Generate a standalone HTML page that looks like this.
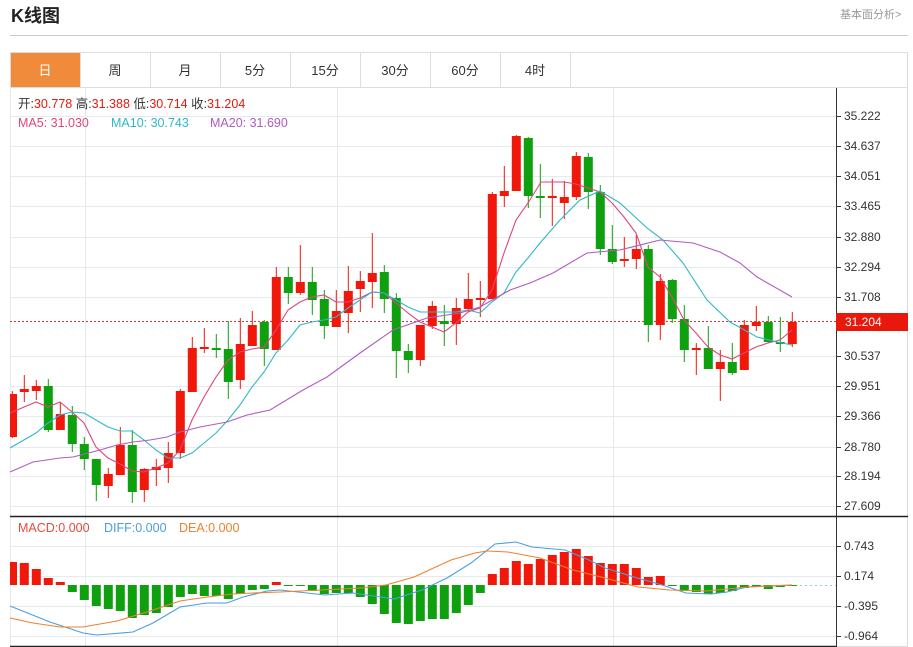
<!DOCTYPE html>
<html><head><meta charset="utf-8">
<style>
body{margin:0;background:#fff;width:913px;height:647px;overflow:hidden;font-family:"Liberation Sans","Noto Sans CJK SC",sans-serif;}
svg{position:absolute;left:0;top:0}
text{font-family:"Liberation Sans","Noto Sans CJK SC",sans-serif}
</style></head><body>
<svg id="s" width="913" height="647" xmlns="http://www.w3.org/2000/svg">
<text x="11" y="22" font-size="18" font-weight="bold" fill="#222">K线图</text>
<text x="840" y="18" font-size="11" fill="#999">基本面分析&gt;</text>
<line x1="10" y1="35.5" x2="908" y2="35.5" stroke="#ccc"/>
<rect x="10.5" y="52.5" width="897" height="594" fill="none" stroke="#ddd"/>
<line x1="10" y1="87.5" x2="908" y2="87.5" stroke="#ddd"/>
<rect x="11" y="53" width="69" height="34" fill="#F08B3B"/>
<g stroke="#ddd"><line x1="80.5" y1="53" x2="80.5" y2="87"/><line x1="150.5" y1="53" x2="150.5" y2="87"/><line x1="220.5" y1="53" x2="220.5" y2="87"/><line x1="290.5" y1="53" x2="290.5" y2="87"/><line x1="360.5" y1="53" x2="360.5" y2="87"/><line x1="430.5" y1="53" x2="430.5" y2="87"/><line x1="500.5" y1="53" x2="500.5" y2="87"/><line x1="570.5" y1="53" x2="570.5" y2="87"/></g>
<g font-size="13" text-anchor="middle" fill="#333">
<text x="45" y="75" fill="#fff">日</text><text x="115" y="75">周</text><text x="185" y="75">月</text><text x="255" y="75">5分</text><text x="325" y="75">15分</text><text x="395" y="75">30分</text><text x="465" y="75">60分</text><text x="535" y="75">4时</text></g>
<g id="grid" stroke="#e6e9ee"></g>
<line x1="836.5" y1="88" x2="836.5" y2="647" stroke="#333"/>
<line x1="10" y1="516.5" x2="908" y2="516.5" stroke="#222" stroke-width="1.5"/>
<line x1="10" y1="646.5" x2="836" y2="646.5" stroke="#222" stroke-width="1.5"/>
<line x1="10" y1="321.5" x2="836" y2="321.5" stroke="#e33" stroke-dasharray="2,2"/>
<line x1="790" y1="585.5" x2="836" y2="585.5" stroke="#9cd" stroke-dasharray="2,3"/>
<g id="c"></g>
<g font-size="12" fill="#333" id="ax"></g>
<rect x="836" y="313" width="72" height="18" fill="#e8180c"/>
<text x="845" y="326" font-size="12" fill="#fff">31.204</text>
<g font-size="12.5">
<text x="18" y="108" fill="#333">开:<tspan fill="#e8180c">30.778</tspan>  高:<tspan fill="#e8180c">31.388</tspan>  低:<tspan fill="#e8180c">30.714</tspan>  收:<tspan fill="#e8180c">31.204</tspan></text>
<text x="18" y="127" fill="#e0457b">MA5: 31.030</text>
<text x="111" y="127" fill="#30b8c8">MA10: 30.743</text>
<text x="210" y="127" fill="#b05cc0">MA20: 31.690</text>
<text x="18" y="532" fill="#e84a3c">MACD:0.000</text>
<text x="104" y="532" fill="#4a9ee0">DIFF:0.000</text>
<text x="179" y="532" fill="#f08030">DEA:0.000</text>
</g>
</svg>
<script>
const S=document.getElementById('c'),G=document.getElementById('grid'),A=document.getElementById('ax');
const ns='http://www.w3.org/2000/svg';
function el(p,t,a){const e=document.createElementNS(ns,t);for(const k in a)e.setAttribute(k,a[k]);p.appendChild(e);return e;}
const py=[[116,'35.222'],[146,'34.637'],[176,'34.051'],[206,'33.465'],[237,'32.880'],[267,'32.294'],[297,'31.708'],[356,'30.537'],[386,'29.951'],[416,'29.366'],[447,'28.780'],[476,'28.194'],[506,'27.609'],[546,'0.743'],[576,'0.174'],[606,'-0.395'],[636,'-0.964']];
py.forEach(([y,t])=>{el(G,'line',{x1:10,x2:836,y1:y+.5,y2:y+.5});el(A,'line',{x1:836,x2:841,y1:y+.5,y2:y+.5,stroke:'#333'});const tx=el(A,'text',{x:844,y:y+4});tx.textContent=t;});
[85,337,613].forEach(x=>el(G,'line',{x1:x+.5,x2:x+.5,y1:88,y2:646}));
el(G,'line',{x1:10.5,x2:10.5,y1:88,y2:646});
const R='#f0180a',Gr='#0ea00e';
const c=[
[R,394,437,391,438],[R,389,392,375,402],[R,386,391,380,400],[Gr,386,430,379,432],[R,414,430,402,430],[Gr,415,444,406,452],[Gr,444,459,437,470],[Gr,459,485,459,501],[R,474,486,468,498],[R,445,475,427,475],[Gr,445,492,430,503],[R,469,490,468,502],[R,467,470,459,486],[R,453,468,442,483],[R,391,453,389,459],[R,348,392,337,392],[R,347,348,328,353],[Gr,348,349,334,358],[Gr,349,382,321,399],[R,344,380,318,389],[R,325,346,311,346],[Gr,322,349,320,366],
[R,277,350,267,350],[Gr,277,293,267,304],[R,282,293,245,295],[Gr,282,300,267,315],[Gr,299,326,290,339],[R,311,327,290,327],[R,291,313,266,333],[R,281,289,271,312],[R,273,282,233,308],[Gr,272,299,265,313],[Gr,298,351,293,378],[Gr,351,360,344,373],[R,325,360,325,366],[R,306,326,301,329],[Gr,321,324,305,346],[R,308,324,298,345],[R,299,309,273,312],[R,298,299,281,317],[R,194,299,192,299],[R,191,196,166,207],[R,136,191,135,191],[Gr,138,196,137,208],
[Gr,196,197,164,218],[R,196,197,179,226],[R,197,203,181,219],[R,156,197,152,200],[Gr,157,192,153,209],[Gr,192,249,185,255],[Gr,249,262,225,264],[R,259,260,237,267],[R,249,259,235,269],[Gr,249,325,245,342],[R,281,325,274,340],[Gr,280,319,279,323],[Gr,319,350,305,362],[R,348,350,343,375],[Gr,348,369,326,369],[R,362,369,350,401],[Gr,362,373,343,375],[R,325,370,320,370],[R,322,326,306,331],[Gr,322,342,316,343],[Gr,342,344,317,352],[R,322,344,312,347]];
c.forEach((d,i)=>{const x=12.3+12*i;el(S,'line',{x1:x,x2:x,y1:d[3],y2:d[4],stroke:d[0]});const h=Math.max(d[2]-d[1],2);el(S,'rect',{x:i==0?10:x-4.5,y:d[1],width:i==0?7:9,height:h,fill:d[0]});});
const mh={0:562,1:563,2:569,3:578,4:582,5:592,6:600,7:606,8:609,9:611,10:618,11:615,12:613,13:607,14:597,15:594,16:596,17:596,18:599,19:594,20:590,21:589,22:582,23:586,24:586,25:591,26:594,27:593,28:593,29:597,30:604,31:614,32:623,33:624,34:621,35:619,36:619,37:613,38:605,39:593,40:574,41:568,42:561,43:564,44:559,45:555,46:552,47:549,48:556,49:563,50:564,51:564,52:568,53:577,54:576,55:585,56:591,57:592,58:594,59:593,60:591,61:588,62:587,63:589,64:587,65:586};
for(const k in mh){const i=+k,x=12.3+12*i,v=mh[k];const y0=585;el(S,'rect',{x:i==0?10:x-4.5,y:Math.min(v,y0),width:i==0?7:9,height:Math.max(Math.abs(v-y0),1),fill:v<y0?R:Gr});}
function pl(pts,col){el(S,'polyline',{points:pts.map(p=>p.join(',')).join(' '),fill:'none',stroke:col,'stroke-width':1.1});}
pl([[10,413],[36,402],[48,407],[60,402],[72,412],[84,423],[96,447],[108,458],[120,464],[132,471],[144,472],[156,468],[168,463],[180,450],[192,420],[204,397],[216,377],[228,360],[240,352],[252,349],[264,347],[276,330],[288,310],[300,302],[312,297],[324,295],[336,302],[348,302],[360,298],[372,292],[384,293],[396,303],[408,313],[420,322],[432,327],[444,332],[456,323],[468,312],[480,308],[492,290],[504,253],[516,220],[528,203],[541,182],[552,182],[564,182],[576,184],[588,188],[600,192],[612,203],[624,217],[636,233],[648,267],[660,277],[672,297],[684,320],[696,333],[708,347],[720,355],[732,359],[744,353],[756,347],[768,343],[780,340],[792,330]],'#e0457b');
pl([[10,448],[36,433],[48,423],[60,415],[72,412],[84,413],[96,420],[108,427],[120,431],[132,431],[144,440],[156,450],[168,458],[180,458],[192,453],[204,443],[216,433],[228,420],[240,405],[252,387],[264,372],[276,353],[288,340],[300,325],[312,322],[324,320],[336,317],[348,308],[360,300],[372,292],[384,293],[396,300],[408,307],[420,312],[432,312],[444,312],[456,312],[468,310],[480,313],[492,302],[504,293],[516,272],[528,258],[540,243],[560,220],[580,200],[600,191],[620,203],[647,228],[663,240],[683,263],[707,300],[730,322],[757,337],[777,342],[792,345]],'#30b8c8');
pl([[10,472],[33,462],[60,458],[73,457],[100,450],[117,445],[133,442],[150,440],[167,437],[180,432],[200,427],[227,422],[247,415],[270,410],[303,390],[327,377],[360,353],[393,330],[427,318],[460,313],[480,307],[510,290],[530,283],[553,273],[587,253],[620,250],[660,240],[693,243],[720,252],[740,263],[757,277],[792,297]],'#b05cc0');
pl([[10,606],[50,622],[83,633],[97,635],[133,632],[153,623],[180,607],[207,603],[227,603],[243,597],[267,591],[280,590],[325,595],[353,593],[394,599],[422,590],[447,578],[471,563],[495,544],[516,542],[532,547],[565,550],[589,560],[605,568],[634,577],[662,585],[686,593],[711,594],[727,592],[747,587],[792,585]],'#4a9ee0');
pl([[10,618],[33,623],[60,627],[83,627],[117,621],[150,611],[180,601],[207,597],[233,594],[253,593],[280,592],[361,588],[386,585],[414,577],[451,560],[475,553],[487,551],[508,552],[540,558],[573,570],[605,578],[638,587],[670,590],[707,591],[747,587],[792,585]],'#f08030');
</script>
</body></html>
